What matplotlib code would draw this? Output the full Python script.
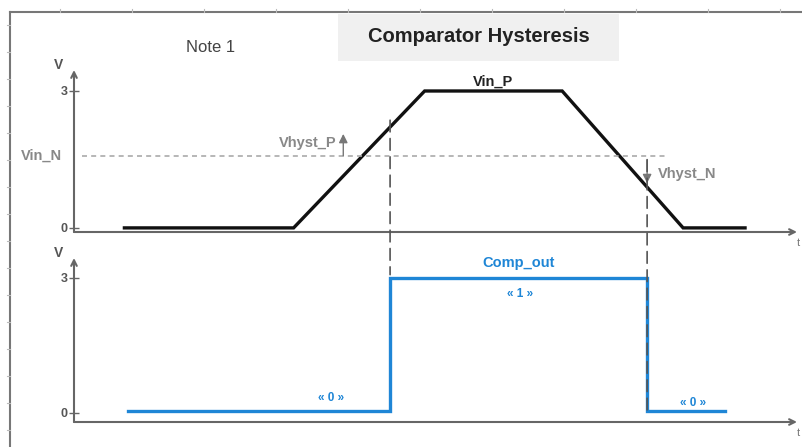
import matplotlib
matplotlib.use("Agg")
import matplotlib.pyplot as plt
from matplotlib.lines import Line2D
from matplotlib.patches import Rectangle, ConnectionPatch

plt.rcParams["font.family"] = ["Liberation Sans", "DejaVu Sans"]

# waveform data (time in arbitrary units, volts)
t_in = [0.7, 3.05, 4.87, 6.78, 8.46, 9.32]
vin_p = [0, 0, 3, 3, 0, 0]
vin_n = 1.58

t_out = [0.75, 4.39, 4.39, 7.96, 7.96, 9.04]
comp_out = [0.05, 0.05, 3, 3, 0.05, 0.05]

t_switch = [4.39, 7.96]
vhyst_p = (vin_n, 2.06)
vhyst_n = (vin_n - 0.08, 0.98)

yticks = [0, 3]
ytick_labels = ["0", "3"]

W, H = 802, 447
fig = plt.figure(figsize=(W / 100, H / 100), dpi=100)
fig.patch.set_facecolor("white")

axis_col = "#666666"
text_col = "#888888"
blue = "#1f86d6"


def rect(x0, y_top, x1, y_bot):
    return [x0 / W, 1 - y_bot / H, (x1 - x0) / W, (y_bot - y_top) / H]


# outer frame
fig.add_artist(Line2D([10 / W, 10 / W], [0, 1 - 12 / H], color="#777777", lw=1.5))
fig.add_artist(Line2D([10 / W, 1], [1 - 12 / H, 1 - 12 / H], color="#777777", lw=1.5))
for xp in range(60, 802, 72):
    fig.add_artist(Line2D([xp / W, xp / W], [1 - 9 / H, 1 - 12 / H], color="#bbbbbb", lw=0.8))
for yp in range(25, 447, 27):
    fig.add_artist(Line2D([7 / W, 10 / W], [1 - yp / H, 1 - yp / H], color="#bbbbbb", lw=0.8))

# title box
fig.add_artist(Rectangle((338 / W, 1 - 61 / H), (619 - 338) / W, 47 / H,
                         transform=fig.transFigure, facecolor="#f0f0f0", edgecolor="none"))
fig.text(479 / W, 1 - 37 / H, "Comparator Hysteresis", ha="center", va="center",
         fontsize=14.5, fontweight="bold", color="#222222")
fig.text(211 / W, 1 - 47 / H, "Note 1", ha="center", va="center", fontsize=12, color="#444444")


def setup(ax, y_bottom, y_top):
    ax.set_xlim(0, 723 / 72)
    ax.set_ylim(y_bottom, y_top)
    for s in ["top", "right", "left", "bottom"]:
        ax.spines[s].set_visible(False)
    ax.set_facecolor("none")
    ax.annotate("", xy=(0, 1), xytext=(0, 0), xycoords="axes fraction",
                arrowprops=dict(arrowstyle="->", color=axis_col, lw=1.5, shrinkA=0, shrinkB=0))
    ax.annotate("", xy=(1, 0), xytext=(0, 0), xycoords="axes fraction",
                arrowprops=dict(arrowstyle="->", color=axis_col, lw=1.5, shrinkA=0, shrinkB=0))
    ax.set_xticks([])
    ax.set_yticks(yticks)
    ax.set_yticklabels(ytick_labels, fontsize=9, color="#555555", fontweight="bold")
    ax.tick_params(axis="y", direction="inout", length=7, width=1, color=axis_col, pad=1)
    ax.text(-0.022, 1.03, "V", transform=ax.transAxes, ha="center", va="center",
            fontsize=10, color="#555555", fontweight="bold")
    ax.text(0.9995, -0.065, "t", transform=ax.transAxes, ha="left", va="center",
            fontsize=8, color="#777777", clip_on=False)


# top panel: Vin_P / Vin_N
ax1 = fig.add_axes(rect(74, 70, 797, 232))
setup(ax1, -0.09, 3.46)
ax1.plot(t_in, vin_p, color="#111111", lw=2.4, solid_joinstyle="miter")
ax1.plot([0.11, 8.22], [vin_n, vin_n], color="#aaaaaa", lw=1.2, ls=(0, (3, 2.5)))
ax1.text(-0.17, vin_n, "Vin_N", ha="right", va="center", fontsize=10.5,
         color=text_col, fontweight="bold")
ax1.text(5.82, 3.06, "Vin_P", ha="center", va="bottom", fontsize=10.5,
         color="#222222", fontweight="bold")
ax1.annotate("", xy=(3.74, vhyst_p[1]), xytext=(3.74, vhyst_p[0]),
             arrowprops=dict(arrowstyle="-|>", color="#777777", lw=1, mutation_scale=13,
                             shrinkA=0, shrinkB=0))
ax1.text(3.64, 1.85, "Vhyst_P", ha="right", va="center", fontsize=10.5,
         color=text_col, fontweight="bold")
ax1.annotate("", xy=(t_switch[1], vhyst_n[1]), xytext=(t_switch[1], vhyst_n[0]),
             arrowprops=dict(arrowstyle="-|>", color="#777777", lw=1, mutation_scale=13,
                             shrinkA=0, shrinkB=0))
ax1.text(8.11, 1.18, "Vhyst_N", ha="left", va="center", fontsize=10.5,
         color=text_col, fontweight="bold")

# bottom panel: Comp_out
ax2 = fig.add_axes(rect(74, 258, 797, 422))
setup(ax2, -0.2, 3.44)
ax2.plot(t_out, comp_out, color=blue, lw=2.4, solid_joinstyle="miter")
ax2.text(6.18, 3.17, "Comp_out", ha="center", va="bottom", fontsize=10.5,
         color=blue, fontweight="bold")
ax2.text(6.2, 2.65, "« 1 »", ha="center", va="center", fontsize=8.5,
         color=blue, fontweight="bold")
ax2.text(3.57, 0.33, "« 0 »", ha="center", va="center", fontsize=8.5,
         color=blue, fontweight="bold")
ax2.text(8.6, 0.22, "« 0 »", ha="center", va="center", fontsize=8.5,
         color=blue, fontweight="bold")

# switching instants, dashed across both panels
for ts, v_top, v_bot in [(t_switch[0], 2.36, 3.07), (t_switch[1], 1.49, 0.05)]:
    cp = ConnectionPatch(xyA=(ts, v_top), coordsA=ax1.transData,
                         xyB=(ts, v_bot), coordsB=ax2.transData,
                         color="#555555", lw=1.2, ls=(0, (7, 4)))
    fig.add_artist(cp)

fig.savefig("out.png", dpi=100)
